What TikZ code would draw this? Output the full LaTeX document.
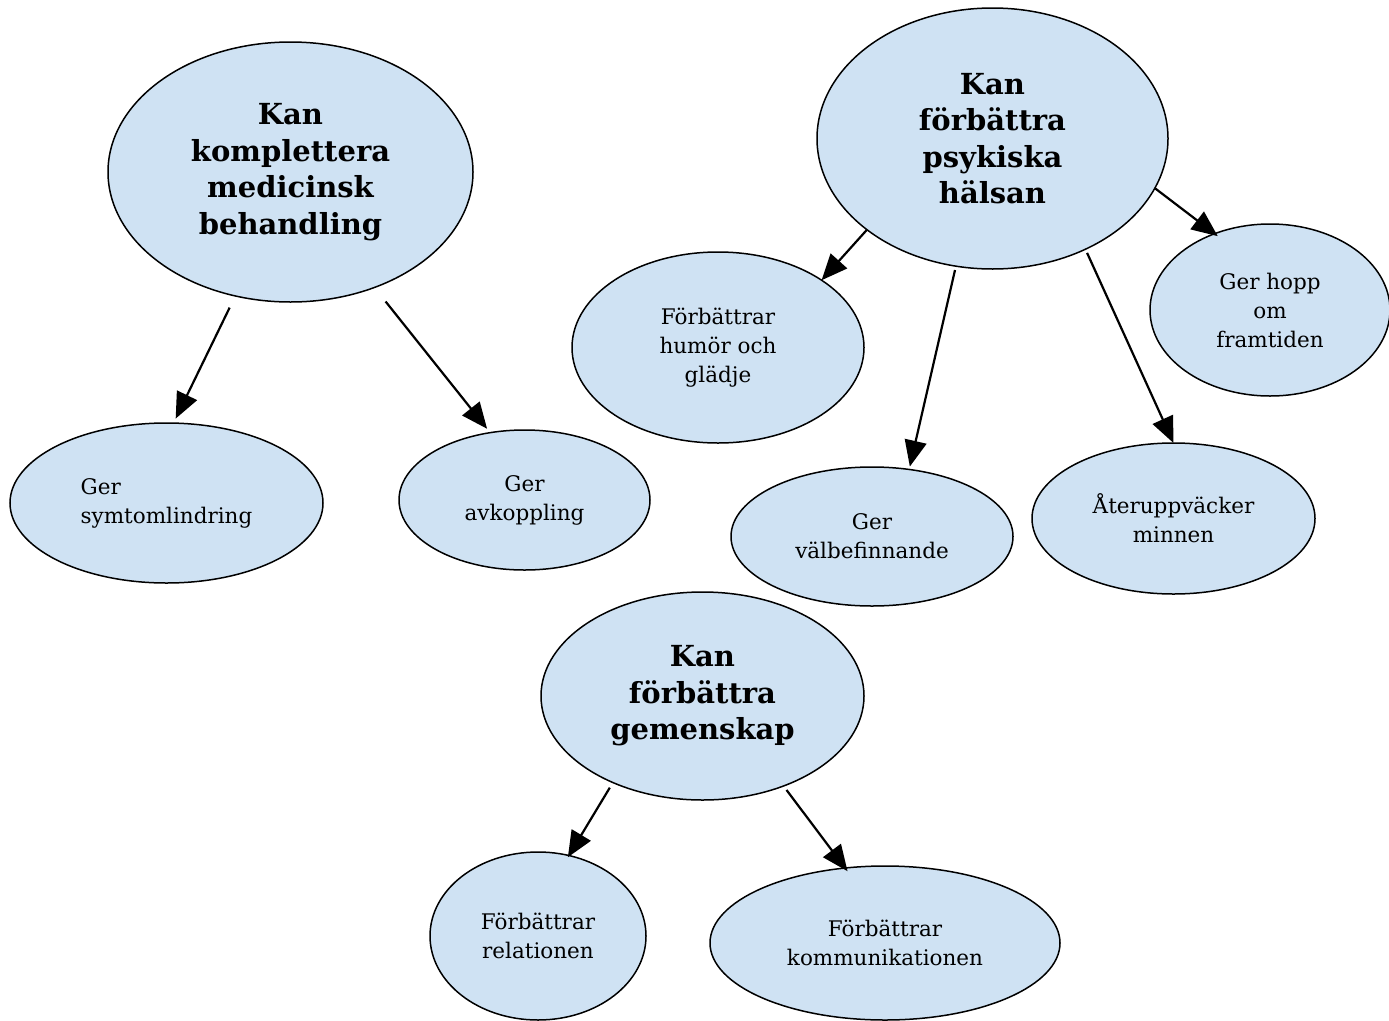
\documentclass[tikz,border=0pt]{standalone}
\usepackage{fontspec}
\setmainfont{DejaVu Serif}
\usetikzlibrary{shapes.geometric,arrows.meta}
\definecolor{bubble}{RGB}{207,226,243}
\begin{document}
\begin{tikzpicture}[x=1pt,y=-1pt,
  bub/.style={ellipse,draw=black,line width=1.5pt,fill=bubble,inner sep=0pt,outer sep=0pt},
  big/.style={bub,font=\fontsize{29}{36.5}\selectfont\bfseries,align=center},
  small/.style={bub,font=\fontsize{21.5}{29}\selectfont,align=center},
  arr/.style={-{Triangle[length=26pt,width=22pt]},line width=2.2pt}]
\useasboundingbox (0,0) rectangle (1389,1020);
% main bubbles
\node[big,minimum width=365pt,minimum height=260pt] (komp) at (290.5,172) {Kan\\komplettera\\medicinsk\\behandling};
\node[big,minimum width=351pt,minimum height=261pt] (psyk) at (992.5,138.5) {Kan\\förbättra\\psykiska\\hälsan};
\node[big,minimum width=323pt,minimum height=208pt] (gem) at (702.5,696) {Kan\\förbättra\\gemenskap};
% leaf bubbles
\node[small,align=left,minimum width=313pt,minimum height=160pt] (symp) at (166.5,503) {Ger\\symtomlindring};
\node[small,minimum width=251pt,minimum height=140pt] (avk) at (524.5,500) {Ger\\avkoppling};
\node[small,minimum width=292pt,minimum height=191pt] (humor) at (718,347.5) {Förbättrar\\humör och\\glädje};
\node[small,minimum width=240pt,minimum height=172pt] (hopp) at (1270,310) {Ger hopp\\om\\framtiden};
\node[small,minimum width=282pt,minimum height=139pt] (valb) at (872,536.5) {Ger\\välbefinnande};
\node[small,minimum width=283pt,minimum height=151pt] (ater) at (1173.5,518.5) {Återuppväcker\\minnen};
\node[small,minimum width=216pt,minimum height=168pt] (rel) at (538,936) {Förbättrar\\relationen};
\node[small,minimum width=350pt,minimum height=154pt] (komm) at (885,943) {Förbättrar\\kommunikationen};
% connectors
\draw[arr,shorten <=13pt,shorten >=5pt] (komp.246.7) -- (symp.85.6);
\draw[arr,shorten <=18pt,shorten >=5pt] (komp.306.6) -- (avk.117.5);
\draw[arr] (psyk.216.9) -- (humor.33.2);
\draw[arr,shorten <=4pt,shorten >=3pt] (psyk.254.5) -- (valb.61.7);
\draw[arr,shorten <=4pt] (psyk.310.1) -- (ater.90);
\draw[arr,shorten >=-4pt] (psyk.343.2) -- (hopp.126);
\draw[arr,shorten <=6pt,shorten >=-2pt] (gem.224.5) -- (rel.69.2);
\draw[arr,shorten <=5pt,shorten >=-4pt] (gem.312.6) -- (komm.118.8);
\end{tikzpicture}
\end{document}
